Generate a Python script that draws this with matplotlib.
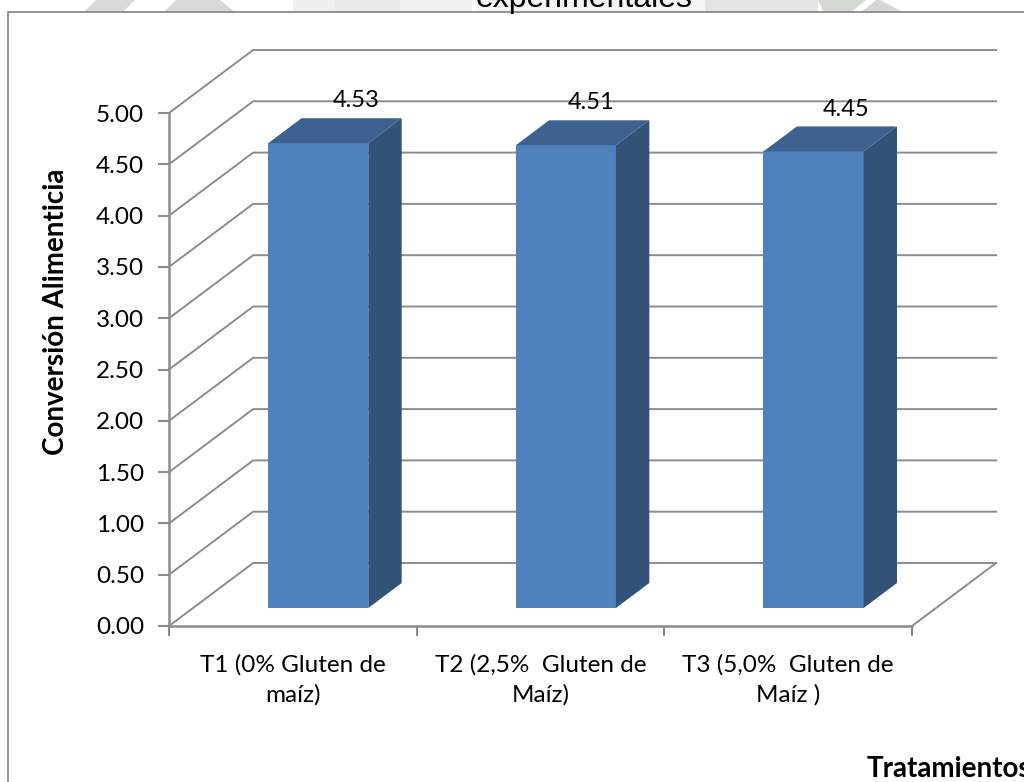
import matplotlib
matplotlib.use('Agg')
import matplotlib.pyplot as plt
from matplotlib.patches import Polygon, Rectangle

categorias = ['T1 (0% Gluten de\nmaíz)', 'T2 (2,5%  Gluten de\nMaíz)', 'T3 (5,0%  Gluten de\nMaíz )']
conversion = [4.53, 4.51, 4.45]
marcas_y = [0.0, 0.5, 1.0, 1.5, 2.0, 2.5, 3.0, 3.5, 4.0, 4.5, 5.0]

plt.rcParams['font.family'] = ['Lato', 'DejaVu Sans']

W, H = 1024, 782
gris = '#8c8c8c'
dx = 84 / 247.3   # fondo del grafico 3D, en unidades de datos
dy = 63 / 102.6

fig = plt.figure(figsize=(W / 100, H / 100), dpi=100, facecolor='#ffffff')

# restos de la marca de agua sobre el marco, en pixeles
fondo = [
    ([(83, 13), (96, 0), (135, 0), (122, 13)], '#d6dcd5'),
    ([(163, 13), (176, 0), (220, 0), (236, 13)], '#d6dcd5'),
    ([(293, 13), (293, 0), (335, 0), (335, 13)], '#eef1ee'),
    ([(335, 13), (335, 0), (400, 0), (400, 13)], '#e7ebe6'),
    ([(400, 13), (400, 0), (472, 0), (472, 13)], '#f0f2f0'),
    ([(476, 13), (476, 0), (705, 0), (705, 13)], '#f4f5f4'),
    ([(705, 13), (705, 0), (818, 0), (818, 13)], '#e2e6e2'),
    ([(824, 13), (818, 0), (880, 0), (905, 13)], '#d3dad2'),
    ([(850, 13), (866, 0), (876, 0), (860, 13)], '#ffffff'),
]
for pts, col in fondo:
    fig.add_artist(Polygon([(x / W, 1 - y / H) for x, y in pts], transform=fig.transFigure,
                           facecolor=col, edgecolor='none', zorder=-2))

# marco del grafico (se sale por la derecha y por abajo)
fig.add_artist(Rectangle((8 / W, -0.02), 1.1, 1.02 - 12 / H, transform=fig.transFigure,
                         facecolor='white', edgecolor='#8a8a8a', lw=1.3, zorder=-1))
fig.text(584 / W, 1 - 7 / H, 'experimentales', family='Liberation Sans', fontsize=23, ha='center', va='baseline')

ax = fig.add_axes([169 / W, 1 - 626 / H, (912 - 169) / W, (626 - 113) / H])
ax.patch.set_alpha(0)
ax.set_xlim(0, 3)
ax.set_ylim(0, 5)
for s in ['top', 'right']:
    ax.spines[s].set_visible(False)
for s in ['left', 'bottom']:
    ax.spines[s].set_color(gris)
    ax.spines[s].set_linewidth(1.8)

# rejilla y suelo
for v in marcas_y:
    ax.plot([0, dx, 3 + dx], [v, v + dy, v + dy], color=gris, lw=1.4, clip_on=False, zorder=1)
ax.plot([3, 3 + dx], [0, dy], color=gris, lw=1.4, clip_on=False, zorder=1)

# barras
d1 = 19 / 63
d2 = 44 / 63
ancho = 100 / 247.3
desvio = [0.256, 0.206, 0.233]   # la etiqueta no va centrada igual en cada barra
for i, v in enumerate(conversion):
    x0 = i + 0.5 - ancho / 2
    x1 = x0 + ancho
    y0 = -1 / 102.6
    frente = [(x0 + d1 * dx, y0 + d1 * dy), (x1 + d1 * dx, y0 + d1 * dy), (x1 + d1 * dx, v + y0 + d1 * dy), (x0 + d1 * dx, v + y0 + d1 * dy)]
    tapa = [(x0 + d1 * dx, v + y0 + d1 * dy), (x1 + d1 * dx, v + y0 + d1 * dy), (x1 + d2 * dx, v + y0 + d2 * dy), (x0 + d2 * dx, v + y0 + d2 * dy)]
    lado = [(x1 + d1 * dx, y0 + d1 * dy), (x1 + d2 * dx, y0 + d2 * dy), (x1 + d2 * dx, v + y0 + d2 * dy), (x1 + d1 * dx, v + y0 + d1 * dy)]
    ax.add_patch(Polygon(frente, facecolor='#4f81bd', edgecolor='none', clip_on=False, zorder=3))
    ax.add_patch(Polygon(tapa, facecolor='#3e6290', edgecolor='none', clip_on=False, zorder=3))
    ax.add_patch(Polygon(lado, facecolor='#325277', edgecolor='none', clip_on=False, zorder=3))
    ax.text(i + 0.5 + desvio[i], v + d2 * dy + 0.16, '%.2f' % v, fontsize=17, ha='center', va='center', color='black', zorder=4)

ax.set_yticks(marcas_y)
ax.set_yticklabels(['%.2f' % v for v in marcas_y])
ax.set_xticks([0, 1, 2, 3])
ax.set_xticklabels([])
ax.set_xticks([0.5, 1.5, 2.5], minor=True)
ax.set_xticklabels(categorias, minor=True, linespacing=1.5)
ax.tick_params(axis='y', length=8, width=1.5, color=gris, labelsize=17.5, pad=10)
ax.tick_params(axis='x', which='major', length=7, width=1.5, color=gris)
ax.tick_params(axis='x', which='minor', length=0, labelsize=17.5, pad=20)

fig.text(56 / W, 1 - 312 / H, 'Conversión Alimenticia', rotation=90, fontsize=20, fontweight='bold', ha='center', va='center')
fig.text(867 / W, 1 - 777 / H, 'Tratamientos', fontsize=20, fontweight='bold', ha='left', va='baseline')

fig.savefig('out.png', dpi=100, facecolor=fig.get_facecolor())
